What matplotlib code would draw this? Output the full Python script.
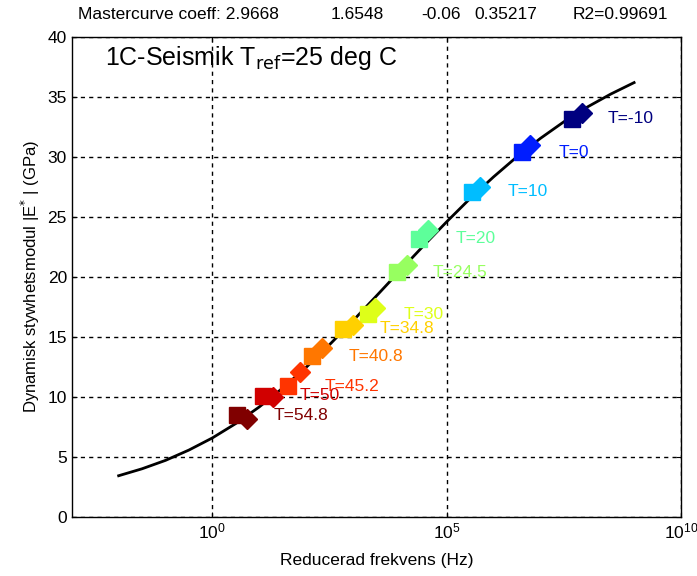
import numpy as np
import matplotlib
matplotlib.use('Agg')
import matplotlib.pyplot as plt
from matplotlib import cm

plt.rcParams['font.family'] = ['Liberation Sans', 'DejaVu Sans']

# temperatures (deg C) of each measurement group
temps = [-10, 0, 10, 20, 24.5, 30, 34.8, 40.8, 45.2, 50, 54.8]
# reduced frequency exponent (log10 Hz) and modulus (GPa), square markers
sq_logf = [7.67, 6.61, 5.54, 4.41, 3.94, 3.32, 2.79, 2.13, 1.62, 1.09, 0.53]
sq_E = [33.2, 30.4, 27.1, 23.2, 20.4, 16.9, 15.7, 13.4, 10.9, 10.1, 8.5]
# diamond markers
d_logf = [7.89, 6.78, 5.72, 4.61, 4.16, 3.47, 3.01, 2.34, 1.88, 1.30, 0.74]
d_E = [33.7, 31.0, 27.5, 23.9, 21.0, 17.4, 16.0, 14.1, 12.1, 10.0, 8.2]

# master curve read at half decades
curve_logf = [-2, -1.5, -1, -0.5, 0, 0.5, 1, 1.5, 2, 2.5, 3, 3.5, 4, 4.5,
              5, 5.5, 6, 6.5, 7, 7.5, 8, 8.5, 9]
curve_E = [3.44, 4.02, 4.72, 5.58, 6.59, 7.79, 9.17, 10.74, 12.47, 14.36,
           16.35, 18.42, 20.51, 22.58, 24.60, 26.54, 28.34, 30.02, 31.55,
           32.93, 34.16, 35.24, 36.2]

coeffs = ['2.9668', '1.6548', '-0.06', '0.35217']
r2 = '0.99691'

fig = plt.figure(figsize=(6.97, 5.76), dpi=100)
ax = fig.add_axes([0.103, 0.1024, 0.874, 0.8334])

ax.plot(10.0 ** np.array(curve_logf), curve_E, color='black', lw=2, zorder=2)

tmin, tmax = min(temps), max(temps)
for i, t in enumerate(temps):
    c = cm.jet((t - tmin) / (tmax - tmin))
    ax.plot(10.0 ** sq_logf[i], sq_E[i], marker='s', ms=11, color=c,
            mec=c, ls='none', zorder=3)
    ax.plot(10.0 ** d_logf[i], d_E[i], marker='D', ms=10, color=c,
            mec=c, ls='none', zorder=3)
    ax.annotate('T=%g' % t, (10.0 ** sq_logf[i], sq_E[i]),
                xytext=(26, 0), textcoords='offset points',
                color=c, fontsize=12.5, va='center', ha='left')

ax.set_xscale('log')
ax.set_xlim(1e-3, 1e10)
ax.set_ylim(0, 40)
ax.set_xticks([1e0, 1e5, 1e10])
ax.xaxis.set_minor_locator(matplotlib.ticker.NullLocator())
ax.set_yticks(np.arange(0, 41, 5))
ax.grid(True, color='black', ls=(0, (3, 3)), lw=1)
ax.tick_params(direction='in', labelsize=12.5, top=True, right=True)
for s in ax.spines.values():
    s.set_linewidth(1)

ax.set_xlabel('Reducerad frekvens (Hz)', fontsize=12.5, labelpad=8)
ax.set_ylabel('Dynamisk stywhetsmodul |E$^{*}$ | (GPa)', fontsize=12)
ax.text(0.054, 0.942, '1C-Seismik T$_{\\mathrm{ref}}$=25 deg C',
        transform=ax.transAxes, fontsize=18, va='baseline', ha='left')

# header line with the master curve coefficients
fig.text(78 / 697, 0.975, 'Mastercurve coeff: ' + coeffs[0], fontsize=12.5,
         va='center')
for xpix, s in zip([331, 421, 474], coeffs[1:]):
    fig.text(xpix / 697, 0.975, s, fontsize=12.5, va='center')
fig.text(573 / 697, 0.975, 'R2=' + r2, fontsize=12.5, va='center')

fig.savefig('out.png', dpi=100)
